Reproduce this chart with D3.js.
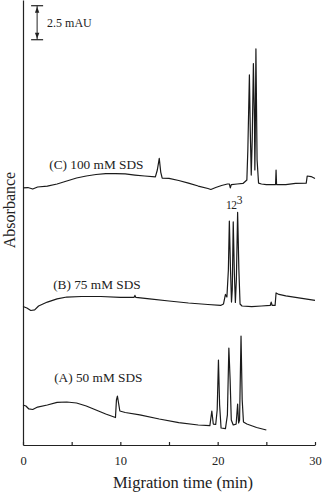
<!DOCTYPE html>
<html>
<head>
<meta charset="utf-8">
<script src="https://cdn.jsdelivr.net/npm/d3@7"></script>
<style>
  html, body { margin: 0; padding: 0; background: #fff; }
  text { font-family: "Liberation Serif", "Times New Roman", serif; fill: #222; }
  .trace { fill: none; stroke: #1a1a1a; stroke-width: 1.2; stroke-linejoin: round; }
  .axis path, .axis line { stroke: #222; stroke-width: 1.2; }
</style>
</head>
<body>
<div class="chart"></div>
<script>
// electropherograms, absorbance (mAU, stacked) vs migration time (min)

// (A) 50 mM SDS  [time, mAU]
var traceA = [
  [0, 2.94], [0.3, 2.87], [0.6, 2.65], [1.0, 2.61], [1.5, 2.79], [2.5, 2.94],
  [3.5, 3.13], [4.5, 3.16], [5.5, 3.09], [6.5, 2.87], [7.5, 2.57], [8.5, 2.28],
  [9.5, 2.02], [9.6, 3.31], [9.7, 3.60], [9.8, 3.16], [9.95, 2.50], [10.5, 2.39],
  [12, 2.21], [14, 1.91], [16, 1.65], [18, 1.47], [19.2, 1.43], [19.4, 2.50],
  [19.55, 1.54], [19.8, 1.51], [19.95, 2.57], [20.08, 6.25], [20.2, 2.94],
  [20.35, 1.25], [20.8, 1.21], [21.0, 2.21], [21.15, 7.13], [21.28, 4.78],
  [21.4, 1.84], [21.6, 1.47], [21.9, 1.54], [22.05, 3.01], [22.15, 1.62],
  [22.25, 1.84], [22.4, 8.01], [22.52, 3.31], [22.65, 1.69], [23, 1.54],
  [24, 1.29], [25, 1.10]
];

// (B) 75 mM SDS
var traceB = [
  [0, 10.18], [0.4, 10.07], [0.8, 9.89], [1.2, 9.93], [1.6, 10.22], [2.5, 10.51],
  [3.5, 10.74], [4.5, 10.88], [6, 10.92], [8, 10.92], [10, 10.85], [11.4, 10.85],
  [11.5, 11.0], [11.6, 10.85], [13, 10.74], [15, 10.59], [17, 10.44], [19, 10.33],
  [20.3, 10.26], [20.6, 10.37], [20.8, 11.07], [20.95, 10.88], [21.1, 12.87],
  [21.2, 16.47], [21.32, 12.87], [21.42, 10.51], [21.5, 11.40], [21.6, 16.40],
  [21.72, 12.50], [21.82, 10.48], [21.92, 12.13], [22.05, 17.10], [22.18, 12.87],
  [22.3, 10.37], [22.5, 10.22], [23.5, 10.18], [24.5, 10.22], [25.4, 10.26],
  [25.5, 10.51], [25.6, 10.26], [25.9, 10.26], [26.0, 11.18], [26.3, 11.07],
  [27, 10.96], [28, 10.85], [29, 10.74], [30, 10.63]
];

// (C) 100 mM SDS
var traceC = [
  [0, 18.90], [0.5, 18.93], [1, 18.82], [1.5, 18.97], [2.5, 19.04], [3.5, 19.19],
  [4.5, 19.41], [5.5, 19.63], [6.5, 19.78], [7.5, 19.89], [8.5, 19.96], [9.5, 19.96],
  [10.5, 19.93], [11.5, 19.85], [12.5, 19.78], [13.6, 19.71], [13.8, 20.22],
  [14.0, 21.07], [14.15, 20.07], [14.3, 19.63], [15, 19.60], [16, 19.45],
  [17, 19.26], [18, 19.04], [19, 18.86], [19.3, 18.79], [19.8, 18.93], [20.4, 19.08],
  [21.0, 19.19], [21.2, 19.19], [21.3, 18.90], [21.4, 19.15], [22, 19.19],
  [22.6, 19.23], [23.0, 19.49], [23.1, 21.69], [23.26, 27.21], [23.35, 23.16],
  [23.45, 19.85], [23.55, 22.43], [23.67, 28.05], [23.78, 23.90], [23.82, 20.22],
  [23.86, 22.43], [23.93, 29.12], [24.05, 20.96], [24.2, 19.26], [24.5, 19.19],
  [25, 19.15], [25.95, 19.15], [26.0, 20.22], [26.05, 19.15], [27, 19.15],
  [28, 19.23], [29.1, 19.26], [29.2, 19.78], [29.6, 19.74], [30, 19.60]
];

var traces = [traceA, traceB, traceC];
var traceLabels = ["(A) 50 mM SDS", "(B) 75 mM SDS", "(C) 100 mM SDS"];
var labelPos = [[3.2, 4.6], [3.1, 11.5], [2.7, 20.3]];   // [time, mAU] of label baseline start

// peak numbers over trace B
var peakNames = ["1", "2", "3"];
var peakPos = [[21.15, 17.35], [21.7, 17.35], [22.25, 17.75]];

var timeTicks = [0, 5, 10, 15, 20, 25, 30];
var timeLabels = [0, 10, 20, 30];
var scaleBar = 2.5;   // mAU

var width = 326;
var height = 492;
var margin = { top: 0, bottom: 47, left: 23, right: 11 };

var svg = d3.select(".chart")
            .append("svg")
            .attr("width", width)
            .attr("height", height);

var x = d3.scaleLinear()
          .domain([0, 30])
          .range([margin.left, width - margin.right]);

var y = d3.scaleLinear()
          .domain([0, 32.72])
          .range([height - margin.bottom, margin.top]);

// axes
var xAxis = d3.axisBottom(x)
              .tickValues(timeTicks)
              .tickSizeInner(-3)
              .tickSizeOuter(0)
              .tickPadding(11)
              .tickFormat(d => timeLabels.indexOf(d) >= 0 ? d : "");

svg.append("g")
   .attr("class", "axis")
   .attr("transform", "translate(0," + (height - margin.bottom) + ")")
   .call(xAxis)
   .call(g => g.selectAll("text").style("font-size", "12.5px").attr("fill", "#222"));

svg.append("g")
   .attr("class", "axis")
   .attr("transform", "translate(" + margin.left + ",0)")
   .call(d3.axisLeft(y).tickValues([]).tickSizeOuter(0));

// traces
var line = d3.line()
             .x(d => x(d[0]))
             .y(d => y(d[1]));

svg.append("g")
   .selectAll("path")
   .data(traces)
   .enter()
   .append("path")
   .attr("class", "trace")
   .attr("d", line);

svg.append("g")
   .selectAll("text")
   .data(traceLabels)
   .enter()
   .append("text")
   .attr("x", (d, i) => x(labelPos[i][0]))
   .attr("y", (d, i) => y(labelPos[i][1]))
   .style("font-size", "13.3px")
   .text(d => d);

svg.append("g")
   .selectAll("text")
   .data(peakNames)
   .enter()
   .append("text")
   .attr("x", (d, i) => x(peakPos[i][0]))
   .attr("y", (d, i) => y(peakPos[i][1]))
   .attr("text-anchor", "middle")
   .style("font-size", "11.5px")
   .text(d => d);

// 2.5 mAU scale bar
var sbX = x(1.45);
var sbTop = y(32.3);
var sbBot = y(32.3 - scaleBar);
var sb = svg.append("g").attr("stroke", "#222").attr("fill", "#222");
sb.append("line").attr("x1", sbX).attr("x2", sbX).attr("y1", sbTop).attr("y2", sbBot).attr("stroke-width", 1);
sb.append("line").attr("x1", sbX - 6).attr("x2", sbX + 6).attr("y1", sbTop).attr("y2", sbTop).attr("stroke-width", 1.2);
sb.append("line").attr("x1", sbX - 6).attr("x2", sbX + 6).attr("y1", sbBot).attr("y2", sbBot).attr("stroke-width", 1.2);
sb.append("path").attr("stroke", "none")
  .attr("d", "M" + sbX + "," + (sbTop + 1) + "l-2.2,6h4.4z");
sb.append("path").attr("stroke", "none")
  .attr("d", "M" + sbX + "," + (sbBot - 1) + "l-2.2,-6h4.4z");
svg.append("text")
   .attr("x", sbX + 10)
   .attr("y", (sbTop + sbBot) / 2 + 4)
   .style("font-size", "12px")
   .text(scaleBar + " mAU");

// axis titles
svg.append("text")
   .attr("x", 183)
   .attr("y", 488)
   .attr("text-anchor", "middle")
   .style("font-size", "16.5px")
   .text("Migration time (min)");

svg.append("text")
   .attr("transform", "translate(14.5,210) rotate(-90)")
   .attr("text-anchor", "middle")
   .style("font-size", "16px")
   .text("Absorbance");
</script>
</body>
</html>
